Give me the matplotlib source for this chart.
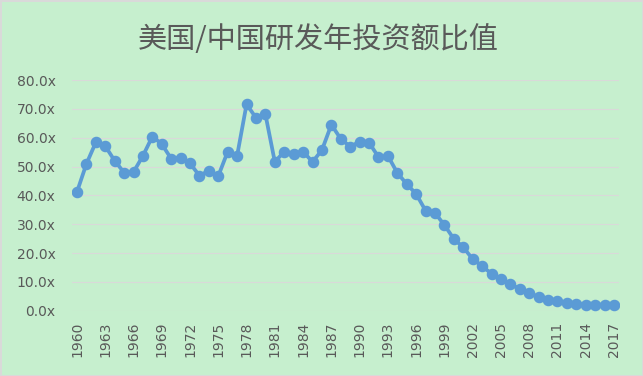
import matplotlib
matplotlib.use('Agg')
import matplotlib.pyplot as plt
from matplotlib.ticker import FuncFormatter

years = list(range(1960, 2018))
ratio = [
    41.2, 50.9, 58.4, 57.1, 52.0, 47.9, 48.1, 53.7, 60.4, 57.8,
    52.7, 53.1, 51.1, 46.8, 48.6, 46.7, 55.2, 53.8, 71.6, 66.9,
    68.1, 51.6, 55.2, 54.2, 55.2, 51.6, 55.7, 64.5, 59.6, 56.9,
    58.6, 58.3, 53.3, 53.7, 47.8, 43.9, 40.5, 34.7, 33.9, 29.7,
    24.9, 22.0, 17.9, 15.5, 12.8, 10.9, 9.3, 7.5, 6.1, 4.8,
    3.8, 3.3, 2.7, 2.4, 2.1, 2.1, 2.1, 2.1,
]
tick_years = years[::3]
title = '美国/中国研发年投资额比值'

BG = '#C6EFCE'
GREY = '#595959'
LINE = '#5B9BD5'

fig = plt.figure(figsize=(6.43, 3.76), dpi=100, facecolor=BG,
                 edgecolor='#D9D9D9', linewidth=2)
ax = fig.add_axes([0.1124, 0.1737, 0.8498, 0.6135])
ax.set_facecolor(BG)

ax.plot(years, ratio, color=LINE, linewidth=2.7, marker='o',
        markersize=7.3, zorder=3)

ax.set_xlim(years[0] - 0.5, years[-1] + 0.5)
ax.set_ylim(0, 80)
ax.set_yticks(range(0, 81, 10))
ax.yaxis.set_major_formatter(FuncFormatter(lambda v, p: f'{v:.1f}x'))
ax.set_xticks(tick_years)
ax.set_xticklabels([str(y) for y in tick_years], rotation=90)

ax.tick_params(axis='both', length=0, labelsize=10, colors=GREY)
ax.tick_params(axis='y', pad=12)
ax.tick_params(axis='x', pad=8)
ax.grid(axis='y', color='#D9D9D9', linewidth=0.8)
ax.set_axisbelow(True)
for s in ax.spines.values():
    s.set_visible(False)

fig.text(0.495, 0.894, title, ha='center', va='center', fontsize=21,
         color=GREY, fontweight='light',
         family=['Noto Sans CJK SC', 'DejaVu Sans'])

fig.savefig('out.png', dpi=100, facecolor=fig.get_facecolor(),
            edgecolor=fig.get_edgecolor())
